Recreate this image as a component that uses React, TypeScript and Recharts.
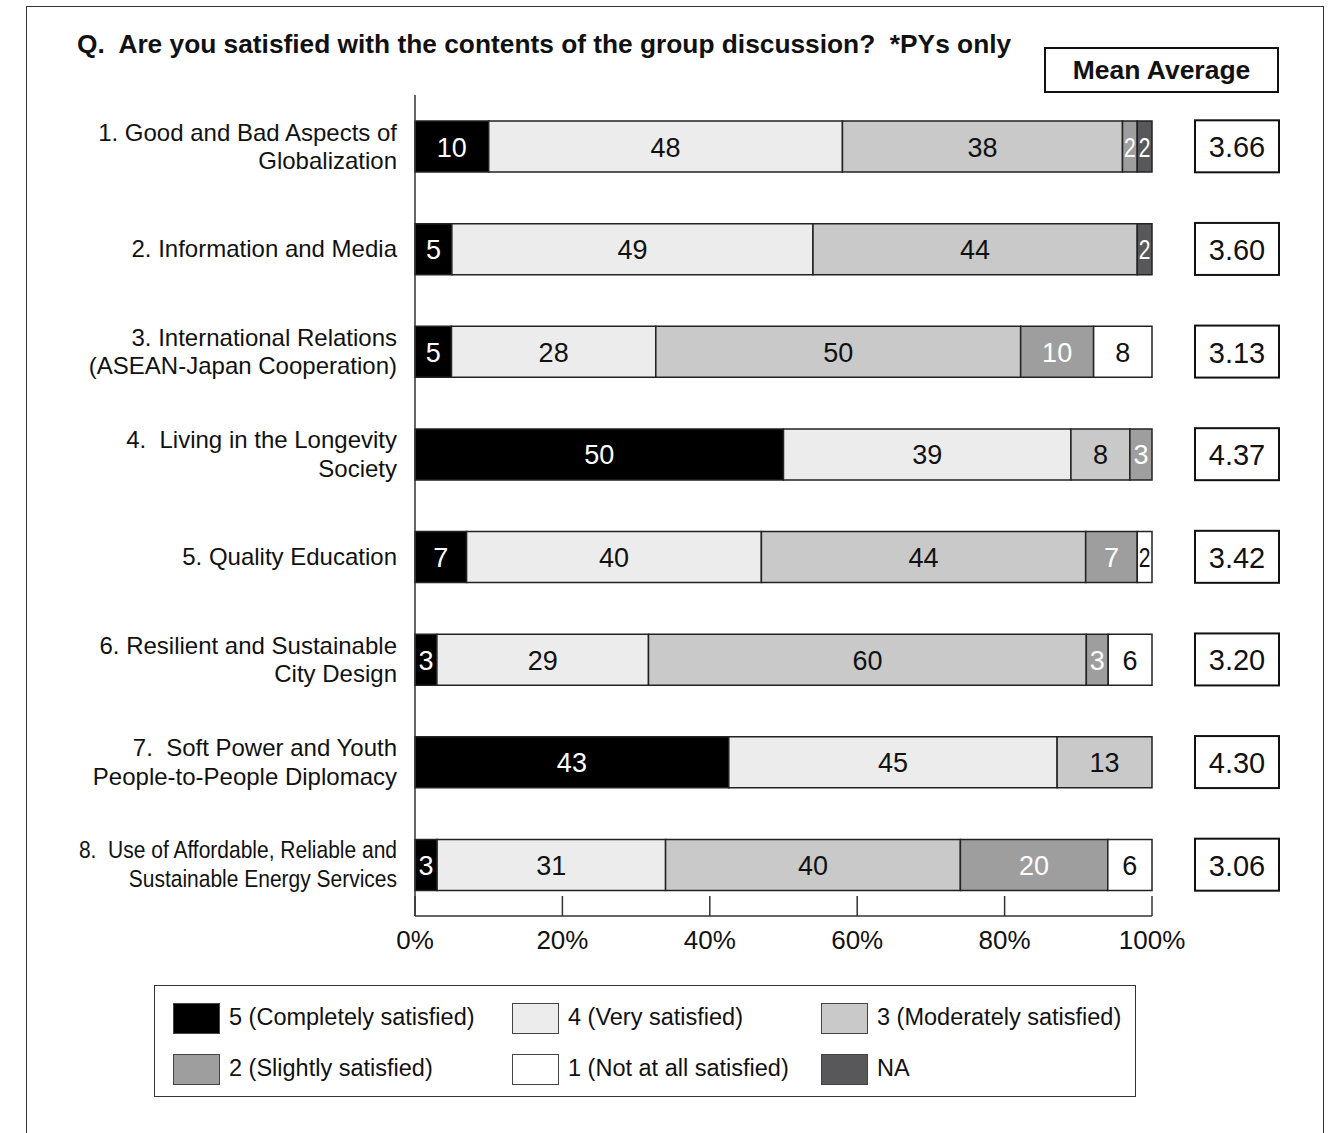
import React from "react";
import { BarChart, Bar, XAxis, YAxis, LabelList } from "recharts";

const categories = [
  "1. Good and Bad Aspects of\nGlobalization",
  "2. Information and Media",
  "3. International Relations\n(ASEAN-Japan Cooperation)",
  "4.  Living in the Longevity\nSociety",
  "5. Quality Education",
  "6. Resilient and Sustainable\nCity Design",
  "7.  Soft Power and Youth\nPeople-to-People Diplomacy",
  "8.  Use of Affordable, Reliable and\nSustainable Energy Services",
];

// percentages per answer, one value per category
const completely = [10, 5, 5, 50, 7, 3, 43, 3];
const very = [48, 49, 28, 39, 40, 29, 45, 31];
const moderately = [38, 44, 50, 8, 44, 60, 13, 40];
const slightly = [2, 0, 10, 3, 7, 3, 0, 20];
const notAtAll = [0, 0, 8, 0, 2, 6, 0, 6];
const noAnswer = [2, 2, 0, 0, 0, 0, 0, 0];

const means = ["3.66", "3.60", "3.13", "4.37", "3.42", "3.20", "4.30", "3.06"];
const xTicks = [0, 20, 40, 60, 80, 100];

const FONT = "'Liberation Sans', Arial, Helvetica, sans-serif";

const SERIES = [
  { key: "s5", name: "5 (Completely satisfied)", fill: "#000000", text: "#ffffff", values: completely },
  { key: "s4", name: "4 (Very satisfied)", fill: "#ececec", text: "#111111", values: very },
  { key: "s3", name: "3 (Moderately satisfied)", fill: "#c8c9c8", text: "#111111", values: moderately },
  { key: "s2", name: "2 (Slightly satisfied)", fill: "#9d9e9d", text: "#ffffff", values: slightly },
  { key: "s1", name: "1 (Not at all satisfied)", fill: "#ffffff", text: "#111111", values: notAtAll },
  { key: "na", name: "NA", fill: "#58585a", text: "#ffffff", values: noAnswer },
];

const LEGEND_ORDER = ["s5", "s4", "s3", "s2", "s1", "na"];

const data = categories.map((name, i) => {
  const row: any = { name };
  SERIES.forEach((s) => (row[s.key] = s.values[i]));
  return row;
});

// row 8 label is set in a condensed face in the original
const NARROW: Record<number, number> = { 7: 0.875 };

const makeLabel = (color: string) => (props: any) => {
  const { x, y, width, height, value } = props;
  if (!value) return null;
  const w = Number(width);
  const txt = String(value);
  const natural = txt.length * 15;
  const squeeze = natural > w - 2;
  return (
    <text
      x={Number(x) + w / 2}
      y={Number(y) + Number(height) / 2 + 1}
      fill={color}
      fontSize={27}
      fontFamily={FONT}
      textAnchor="middle"
      dominantBaseline="central"
      textLength={squeeze ? w - 3 : undefined}
      lengthAdjust={squeeze ? "spacingAndGlyphs" : undefined}
    >
      {txt}
    </text>
  );
};

const CatTick = (props: any) => {
  const { x, y, payload, index } = props;
  const lines = String(payload.value).split("\n");
  const lh = 28.5;
  const sx = NARROW[index] || 1;
  return (
    <g>
      {lines.map((l, i) => (
        <text
          key={i}
          transform={`translate(${x - 18},${y + (i - (lines.length - 1) / 2) * lh}) scale(${sx},1)`}
          x={0}
          y={0}
          textAnchor="end"
          dominantBaseline="central"
          fontSize={24}
          fontFamily={FONT}
          fill="#111"
          xmlSpace="preserve"
          style={{ whiteSpace: "pre" }}
        >
          {l}
        </text>
      ))}
    </g>
  );
};

const MeanTick = (props: any) => {
  const { x, y, index } = props;
  return (
    <g>
      <rect x={x + 43} y={y - 26} width={84} height={52} fill="#fff" stroke="#111" strokeWidth={2} />
      <text
        x={x + 85}
        y={y + 1}
        textAnchor="middle"
        dominantBaseline="central"
        fontSize={29}
        fontFamily={FONT}
        fill="#111"
      >
        {means[index]}
      </text>
    </g>
  );
};

const XTick = (props: any) => {
  const { x, y, payload } = props;
  return (
    <g>
      <line x1={x} x2={x} y1={y} y2={y - 20} stroke="#333" strokeWidth={1.5} />
      <text
        x={x}
        y={y + 24}
        textAnchor="middle"
        dominantBaseline="central"
        fontSize={26}
        fontFamily={FONT}
        fill="#111"
      >
        {Math.round(payload.value * 100)}%
      </text>
    </g>
  );
};

const Legend6 = () => {
  const cols = [172, 511, 820];
  const rows = [1002, 1053];
  return (
    <div
      style={{
        position: "absolute",
        left: 154,
        top: 985,
        width: 982,
        height: 112,
        border: "1.5px solid #333",
        boxSizing: "border-box",
      }}
    >
      {LEGEND_ORDER.map((k, i) => {
        const s = SERIES.find((d) => d.key === k)!;
        const left = cols[i % 3] - 154;
        const top = rows[Math.floor(i / 3)] - 985;
        return (
          <div key={k} style={{ position: "absolute", left, top, display: "flex", alignItems: "center" }}>
            <div
              style={{
                width: 47,
                height: 31,
                background: s.fill,
                border: "1px solid #444",
                boxSizing: "border-box",
              }}
            />
            <span
              style={{
                marginLeft: 9,
                marginTop: -3,
                fontSize: 23.5,
                fontFamily: FONT,
                color: "#111",
                whiteSpace: "nowrap",
              }}
            >
              {s.name}
            </span>
          </div>
        );
      })}
    </div>
  );
};

export default function App() {
  return (
    <div
      style={{
        position: "fixed",
        left: 0,
        top: 0,
        width: 1335,
        height: 1133,
        overflow: "hidden",
        background: "#fff",
        fontFamily: FONT,
      }}
    >
      {/* outer frame, bottom edge runs off the page */}
      <div
        style={{
          position: "absolute",
          left: 26,
          top: 6,
          width: 1298,
          height: 1200,
          border: "1.5px solid #333",
          boxSizing: "border-box",
        }}
      />
      <div
        style={{
          position: "absolute",
          left: 77,
          top: 29,
          fontSize: 26.3,
          lineHeight: "30px",
          fontWeight: "bold",
          color: "#111",
          whiteSpace: "pre",
        }}
      >
        {"Q.  Are you satisfied with the contents of the group discussion?  *PYs only"}
      </div>
      <div
        style={{
          position: "absolute",
          left: 1044,
          top: 47,
          width: 235,
          height: 46,
          border: "2px solid #111",
          boxSizing: "border-box",
          display: "flex",
          alignItems: "center",
          justifyContent: "center",
          fontSize: 26.5,
          fontWeight: "bold",
          color: "#111",
        }}
      >
        Mean Average
      </div>
      <div style={{ position: "absolute", left: 0, top: 0 }}>
        <BarChart
          width={1335}
          height={980}
          data={data}
          layout="vertical"
          stackOffset="expand"
          margin={{ top: 95, right: 0, bottom: 0, left: 0 }}
          barSize={51}
        >
          <XAxis
            type="number"
            domain={[0, 1]}
            ticks={xTicks.map((t) => t / 100)}
            interval={0}
            height={64}
            tickSize={0}
            tickMargin={0}
            tickLine={false}
            axisLine={{ stroke: "#333", strokeWidth: 1.5 }}
            tick={<XTick />}
          />
          <YAxis
            type="category"
            dataKey="name"
            width={415}
            tickSize={0}
            tickMargin={0}
            tickLine={false}
            interval={0}
            axisLine={{ stroke: "#333", strokeWidth: 1.5 }}
            tick={<CatTick />}
          />
          <YAxis
            yAxisId="mean"
            orientation="right"
            type="category"
            dataKey="name"
            width={183}
            tickSize={0}
            tickMargin={0}
            tickLine={false}
            axisLine={false}
            interval={0}
            tick={<MeanTick />}
          />
          {SERIES.map((s) => (
            <Bar
              key={s.key}
              dataKey={s.key}
              name={s.name}
              stackId="a"
              fill={s.fill}
              stroke="#222"
              strokeWidth={1.5}
              isAnimationActive={false}
            >
              <LabelList dataKey={s.key} content={makeLabel(s.text)} />
            </Bar>
          ))}
        </BarChart>
      </div>
      <Legend6 />
    </div>
  );
}
